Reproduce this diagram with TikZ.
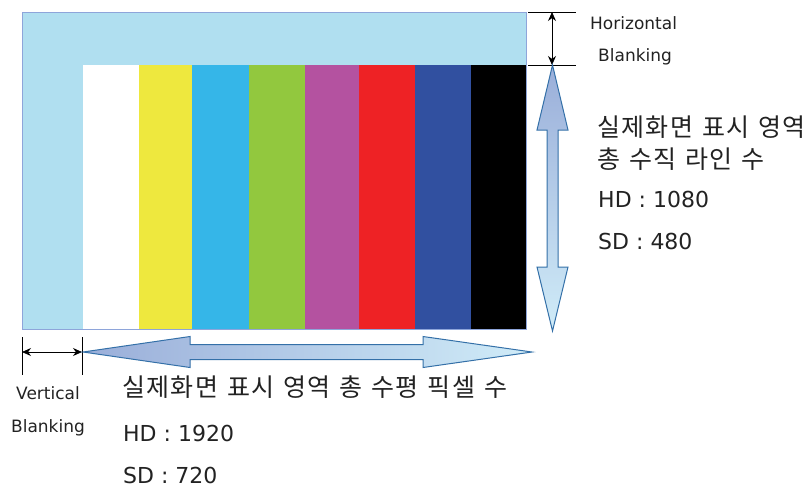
\documentclass[tikz,border=0pt]{standalone}
\usepackage{fontspec}
\setmainfont{DejaVu Sans}
\newfontfamily\kr[LetterSpace=5.2,WordSpace=1.3]{Noto Sans CJK KR}
\usetikzlibrary{arrows.meta}
\definecolor{skyfill}{HTML}{B0DFF0}
\definecolor{frameline}{HTML}{8EA5DA}
\definecolor{cyellow}{HTML}{EEE83E}
\definecolor{ccyan}{HTML}{35B6E8}
\definecolor{cgreen}{HTML}{92C83E}
\definecolor{cpurple}{HTML}{B452A0}
\definecolor{cred}{HTML}{EE2225}
\definecolor{cblue}{HTML}{3150A0}
\definecolor{arrowline}{HTML}{3470A8}
\definecolor{arrowdark}{HTML}{9AAED9}
\definecolor{arrowlight}{HTML}{D0ECF8}
\definecolor{txt}{HTML}{222222}
\begin{document}
\begin{tikzpicture}[x=1pt,y=-1pt,
  blk/.style={draw=black, line width=0.8pt},
  dimarrow/.style={blk, {Stealth[length=9pt,width=8pt]}-{Stealth[length=9pt,width=8pt]}},
  bigarrow/.style={draw=arrowline, line width=1pt, line join=miter},
  lab/.style={font=\fontsize{17}{20}\selectfont, inner sep=0pt, text=txt},
  big/.style={font=\fontsize{22}{26}\selectfont, inner sep=0pt, anchor=base west, text=txt},
  krtxt/.style={font=\kr\fontsize{25}{28}\selectfont, inner sep=0pt, anchor=west, text=txt}]
\useasboundingbox (0,0) rectangle (810,491);
% frame
\coordinate (fNW) at (22,12);
\coordinate (fSE) at (526,329);
\fill[skyfill] (fNW) rectangle (fSE);
\foreach \xa/\xb/\c in {83/139/white,139/192/cyellow,192/249/ccyan,249/305/cgreen,305/359/cpurple,359/415/cred,415/471/cblue,471/526/black}
  \fill[\c] (\xa,65) rectangle (\xb,329);
\draw[frameline, line width=1pt] (fNW) rectangle (fSE);
% horizontal blanking dimension
\coordinate (hbT) at (552,12);
\coordinate (hbB) at (552,65);
\draw[blk] (528,12) -- (576,12);
\draw[blk] (528,65) -- (576,65);
\draw[dimarrow] (hbT) -- (hbB);
% vertical blanking dimension
\coordinate (vbL) at (22,352);
\coordinate (vbR) at (82,352);
\draw[blk] (22,337) -- (22,375);
\draw[blk] (82,337) -- (82,375);
\draw[dimarrow] (vbL) -- (vbR);
% big vertical double arrow
\draw[bigarrow, top color=arrowdark, bottom color=arrowlight]
  (552.5,65) -- (568,130) -- (558,130) -- (558,267) -- (568,267) -- (552.5,331)
  -- (537,267) -- (547,267) -- (547,130) -- (537,130) -- cycle;
% big horizontal double arrow
\draw[bigarrow, left color=arrowdark, right color=arrowlight]
  (83,352) -- (190,336.5) -- (190,344.5) -- (423,344.5) -- (423,336.5) -- (532,352)
  -- (423,367.5) -- (423,359.5) -- (190,359.5) -- (190,367.5) -- cycle;
% labels
\node[lab, anchor=base west] (hz) at (590,29) {Horizontal};
\node[lab, anchor=base west] (hbl) at (598,61) {Blanking};
\node[lab, anchor=base] (vt) at (48,399) {Vertical};
\node[lab, anchor=base] (vbl) at (48,432) {Blanking};
\node[krtxt] (r1) at (597,127) {실제화면 표시 영역};
\node[krtxt] (r2) at (597,159) {총 수직 라인 수};
\node[big] (r3) at (598,207) {HD : 1080};
\node[big] (r4) at (598,249) {SD : 480};
\node[krtxt] (b1) at (122,387) {실제화면 표시 영역 총 수평 픽셀 수};
\node[big] (b2) at (123,441) {HD : 1920};
\node[big] (b3) at (123,483) {SD : 720};
\end{tikzpicture}
\end{document}
